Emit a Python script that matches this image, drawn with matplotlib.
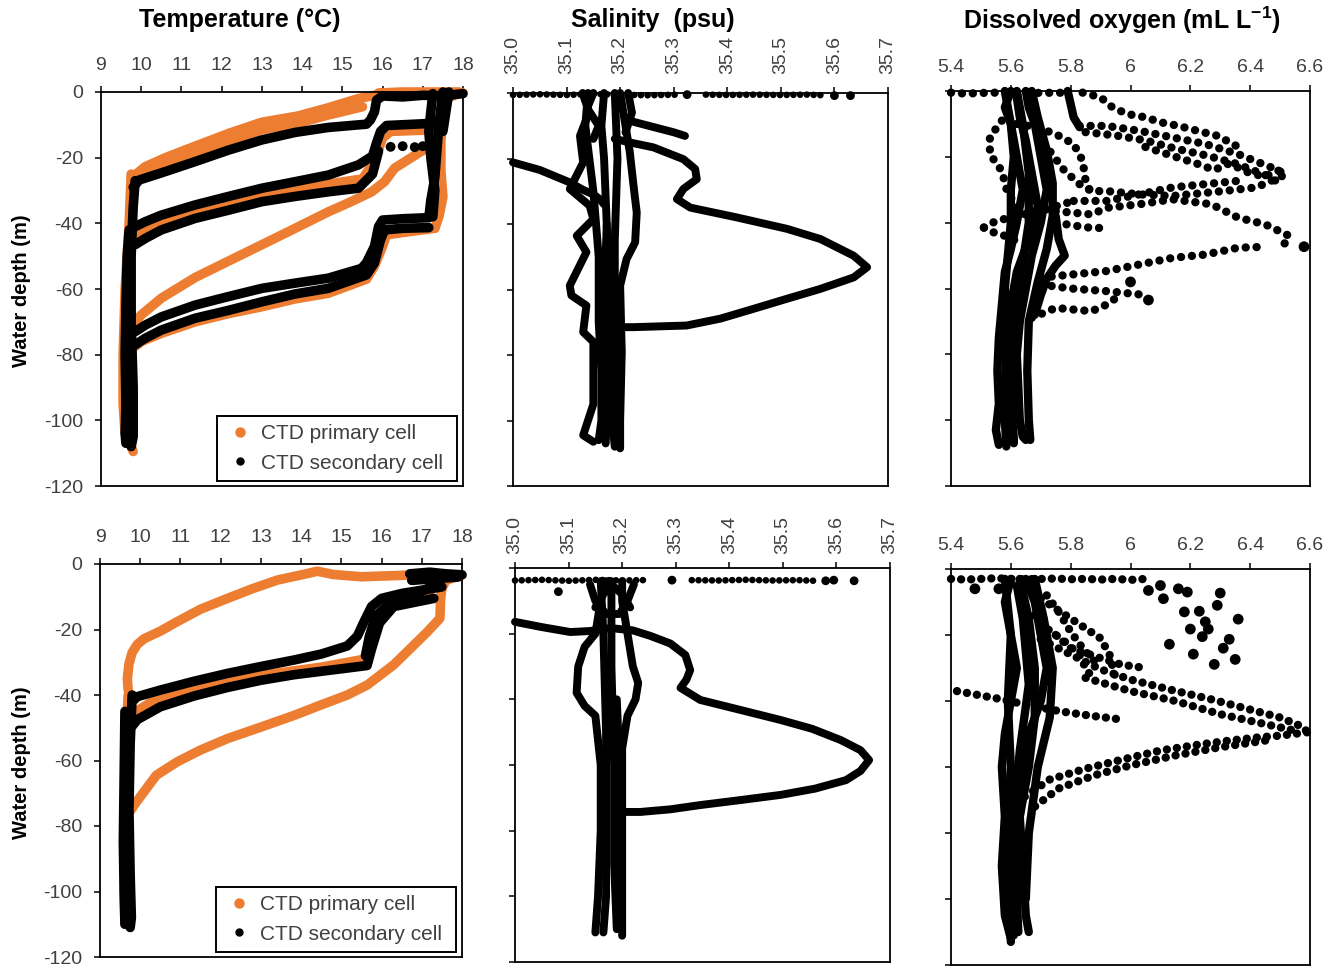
import matplotlib
matplotlib.use("Agg")
import matplotlib.pyplot as plt
from matplotlib.lines import Line2D

plt.rcParams['font.family'] = ['Liberation Sans', 'DejaVu Sans']
plt.rcParams['mathtext.fontset'] = 'custom'
plt.rcParams['mathtext.rm'] = 'Liberation Sans'
plt.rcParams['mathtext.bf'] = 'Liberation Sans:bold'

ORANGE = '#ED7D31'
BLACK = '#000000'

# ---------------- axis ticks / labels ----------------
temp_ticks = [9, 10, 11, 12, 13, 14, 15, 16, 17, 18]
sal_ticks = [35.0, 35.1, 35.2, 35.3, 35.4, 35.5, 35.6, 35.7]
sal_tick_labels = ['35.0', '35.1', '35.2', '35.3', '35.4', '35.5', '35.6', '35.7']
do_ticks = [5.4, 5.6, 5.8, 6.0, 6.2, 6.4, 6.6]
do_tick_labels = ['5.4', '5.6', '5.8', '6', '6.2', '6.4', '6.6']
depth_ticks = [-120, -100, -80, -60, -40, -20, 0]
legend_labels = ['CTD primary cell ', 'CTD secondary cell ']

# ================= Temperature, cast 1 (top) =================
# primary cell (orange)
t1p_top_T = [15.9, 16.5, 17.2, 17.9, 18.0]
t1p_top_d = [-0.3, 0.0, 0.0, 0.0, -0.3]
t1p_a_T = [16.0, 15.8, 15.4, 14.65, 13.9, 13.0, 12.2, 11.34, 10.6, 10.09, 9.78]
t1p_a_d = [-0.3, -1.0, -2.0, -4.8, -7.3, -9.2, -12.5, -16.5, -20.0, -22.8, -26.0]
t1p_b_T = [15.5, 14.65, 13.9, 13.0, 12.2, 11.34, 10.6, 10.09, 9.8]
t1p_b_d = [-4.5, -7.0, -9.5, -11.5, -15.0, -19.0, -22.5, -24.8, -27.5]
t1p_c_T = [17.3, 16.2, 16.0, 15.8, 15.5, 14.65, 13.83, 13.0, 12.17, 11.34, 10.5, 10.0, 9.8]
t1p_c_d = [-11.5, -12.0, -14.0, -21.0, -26.5, -28.0, -30.0, -31.5, -34.0, -36.5, -40.0, -43.0, -45.5]
t1p_mid_T = [17.1, 16.3, 16.05, 15.73, 15.2, 14.65, 13.83, 13.0, 12.17, 11.34, 10.5, 10.0, 9.78]
t1p_mid_d = [-17.0, -23.2, -27.3, -30.4, -33.5, -36.5, -41.5, -46.5, -51.5, -56.5, -62.8, -67.9, -71.0]
t1p_e_T = [17.3, 16.5, 16.1, 16.0, 15.8, 15.6, 14.65, 13.83, 13.0, 12.17, 11.34, 10.5, 10.0, 9.85]
t1p_e_d = [-41.5, -42.8, -43.5, -47.0, -53.0, -57.0, -61.3, -63.0, -65.4, -67.5, -70.0, -73.5, -76.0, -77.5]
t1p_r_T = [17.9, 17.6, 17.5, 17.45, 17.45, 17.5, 17.4, 17.3]
t1p_r_d = [-0.3, -2.0, -8.0, -15.0, -24.0, -32.0, -38.0, -41.5]
t1p_l_T = [9.75, 9.7, 9.6, 9.55, 9.55, 9.6, 9.75, 9.8]
t1p_l_d = [-25.0, -40.0, -60.0, -80.0, -95.0, -104.0, -108.0, -109.5]

# secondary cell (black)
t1s_a_T = [18.0, 17.5, 17.0, 16.5, 16.0, 15.85, 15.8, 15.7, 15.6, 14.65, 13.83, 13.0, 12.17, 11.34, 10.51, 9.95, 9.8]
t1s_a_d = [-0.5, -1.2, -1.0, -1.5, -1.2, -2.5, -6.0, -8.5, -9.8, -10.8, -12.3, -14.6, -17.7, -21.2, -24.6, -26.8, -29.0]
t1s_b1_T = [17.3, 16.8, 16.1, 15.95, 15.85, 15.75, 15.4, 14.65, 13.83, 13.0, 12.17, 11.34, 10.5, 10.1, 9.85]
t1s_b1_d = [-9.5, -9.8, -10.2, -12.0, -15.5, -19.5, -22.2, -25.3, -27.3, -29.3, -31.8, -34.4, -37.5, -39.5, -41.0]
t1s_b2_T = [15.9, 15.75, 15.4, 14.65, 13.83, 13.0, 12.17, 11.34, 10.5, 10.1, 9.85]
t1s_b2_d = [-18.0, -25.0, -29.3, -30.4, -31.8, -33.4, -36.0, -38.5, -42.0, -44.6, -46.5]
t1s_d1_T = [17.1, 16.5, 16.0, 15.9, 15.8, 15.6, 15.48, 14.65, 13.83, 13.0, 12.17, 11.34, 10.5, 10.1, 9.85]
t1s_d1_d = [-38.3, -38.6, -39.0, -41.0, -47.0, -52.0, -53.7, -56.7, -58.2, -59.8, -62.3, -64.9, -68.5, -71.0, -73.0]
t1s_d2_T = [17.15, 16.5, 16.05, 15.95, 15.8, 15.6, 14.65, 13.83, 13.0, 12.17, 11.34, 10.5, 10.1, 9.85]
t1s_d2_d = [-41.3, -41.5, -42.0, -45.0, -52.0, -55.7, -59.8, -61.5, -63.9, -66.5, -68.9, -72.5, -75.0, -77.0]
t1s_r1_T = [17.5, 17.45, 17.4, 17.35, 17.3, 17.2, 17.15]
t1s_r1_d = [0.0, -5.0, -10.0, -18.0, -26.0, -33.0, -38.3]
t1s_r2_T = [17.25, 17.2, 17.15, 17.2, 17.3, 17.25]
t1s_r2_d = [-0.5, -6.0, -12.0, -20.0, -30.0, -38.0]
t1s_r3_T = [17.65, 17.6, 17.55, 17.5]
t1s_r3_d = [0.0, -4.0, -8.0, -12.0]
t1s_l1_T = [9.85, 9.8, 9.75, 9.75, 9.8, 9.8, 9.75]
t1s_l1_d = [-27.0, -35.0, -50.0, -70.0, -90.0, -105.0, -108.0]
t1s_l2_T = [9.7, 9.65, 9.62, 9.6, 9.62, 9.6, 9.62]
t1s_l2_d = [-42.0, -50.0, -65.0, -80.0, -95.0, -104.0, -107.0]
t1s_dots_T = [16.2, 16.5, 16.8, 17.0]
t1s_dots_d = [-16.7, -16.5, -16.8, -16.5]

# ================= Temperature, cast 2 (bottom) =================
t2p_a_T = [18.0, 17.5, 16.65, 15.5, 14.8, 14.4, 14.16, 13.41, 12.8, 12.17, 11.5, 10.92, 10.5, 10.1, 9.93, 9.8, 9.72, 9.68, 9.7]
t2p_a_d = [-3.4, -3.6, -3.4, -3.9, -3.2, -2.2, -2.9, -4.9, -7.5, -10.5, -13.8, -17.6, -20.5, -22.8, -24.5, -27.0, -30.5, -35.0, -38.5]
t2p_b_T = [17.97, 17.6, 17.5, 17.47, 17.45, 17.14, 16.7, 16.3, 15.65, 15.15, 14.5, 13.83, 13.0, 12.17, 11.5, 10.92, 10.4, 10.09, 9.85, 9.75]
t2p_b_d = [-3.4, -5.0, -7.5, -10.5, -16.6, -20.7, -26.0, -30.8, -36.9, -40.0, -43.0, -46.2, -49.8, -53.3, -56.8, -60.4, -64.5, -69.6, -73.6, -75.5]
t2p_c_T = [17.2, 16.4, 15.9, 15.7, 15.6, 14.5, 13.0, 12.0, 11.0, 10.3, 9.9, 9.8]
t2p_c_d = [-9.5, -11.5, -16.0, -22.0, -29.0, -31.5, -34.0, -36.5, -39.0, -42.0, -45.0, -47.5]
t2p_l_T = [9.7, 9.62, 9.6, 9.6, 9.62]
t2p_l_d = [-40.0, -60.0, -80.0, -100.0, -110.0]

t2s_top1_T = [16.7, 17.2, 17.6, 18.0]
t2s_top1_d = [-3.0, -2.5, -3.0, -3.3]
t2s_top2_T = [16.75, 17.3, 17.9]
t2s_top2_d = [-5.0, -4.5, -4.0]
t2s_a_T = [17.5, 17.0, 16.5, 16.0, 15.75, 15.55, 15.4, 15.15, 14.5, 13.83, 13.0, 12.17, 11.34, 10.5, 9.93, 9.8]
t2s_a_d = [-7.0, -8.0, -9.0, -10.5, -13.0, -18.0, -22.0, -25.0, -27.5, -29.3, -31.3, -33.4, -35.8, -38.5, -40.5, -42.0]
t2s_b_T = [17.3, 16.3, 15.95, 15.75, 15.64, 15.0, 13.83, 13.0, 12.17, 11.34, 10.5, 9.93, 9.8]
t2s_b_d = [-10.5, -13.0, -18.0, -26.0, -31.0, -32.0, -33.8, -35.5, -37.7, -40.3, -43.6, -47.5, -49.5]
t2s_c_T = [17.4, 16.8, 16.2, 15.85, 15.7, 15.6]
t2s_c_d = [-6.0, -9.5, -12.0, -16.0, -22.0, -28.0]
t2s_l1_T = [9.8, 9.75, 9.72, 9.75, 9.78, 9.75]
t2s_l1_d = [-40.0, -55.0, -75.0, -95.0, -108.0, -111.0]
t2s_l2_T = [9.62, 9.6, 9.58, 9.6, 9.62]
t2s_l2_d = [-45.0, -65.0, -85.0, -100.0, -110.0]

# ================= Salinity, cast 1 (top) =================
s1_surf_a_S = [35.0, 35.05, 35.1, 35.15, 35.2, 35.25, 35.31]
s1_surf_a_d = [-0.6, -0.4, -0.6, -0.3, -0.5, -0.7, -0.5]
s1_surf_b_S = [35.36, 35.4, 35.45, 35.5, 35.55, 35.58]
s1_surf_b_d = [-0.5, -0.6, -0.5, -0.6, -0.5, -0.7]
s1_dots_S = [35.325, 35.6, 35.63]
s1_dots_d = [-0.5, -0.8, -0.8]
s1_l1_S = [35.15, 35.14, 35.137, 35.125, 35.131, 35.106, 35.143, 35.15, 35.119, 35.137, 35.106, 35.109, 35.137, 35.131, 35.15, 35.15, 35.131, 35.15]
s1_l1_d = [0.0, -4.0, -8.0, -13.1, -21.2, -29.3, -34.4, -38.5, -43.6, -48.6, -58.8, -61.8, -64.9, -73.0, -76.0, -95.0, -104.5, -106.5]
s1_l2_S = [35.17, 35.165, 35.17, 35.175, 35.18, 35.18, 35.185, 35.19]
s1_l2_d = [0.0, -10.0, -20.0, -40.0, -60.0, -80.0, -100.0, -108.0]
s1_l3_S = [35.2, 35.21, 35.218, 35.225, 35.231, 35.228, 35.212, 35.2, 35.203, 35.2, 35.2]
s1_l3_d = [0.0, -10.0, -18.0, -28.3, -36.5, -45.6, -50.7, -58.8, -79.0, -100.0, -108.5]
s1_l4_S = [35.19, 35.195, 35.19, 35.19, 35.195, 35.19]
s1_l4_d = [0.0, -20.0, -45.0, -70.0, -90.0, -104.0]
s1_l5_S = [35.14, 35.135, 35.15, 35.16, 35.16, 35.165, 35.165, 35.16]
s1_l5_d = [0.0, -10.0, -30.0, -50.0, -70.0, -85.0, -100.0, -106.0]
s1_l6_S = [35.0, 35.05, 35.106, 35.13, 35.15, 35.162, 35.17]
s1_l6_d = [-21.2, -23.5, -27.3, -29.5, -31.0, -32.4, -34.0]
s1_l7_S = [35.13, 35.14, 35.16, 35.15]
s1_l7_d = [0.0, -5.0, -10.0, -14.0]
s1_l8_S = [35.215, 35.222, 35.21]
s1_l8_d = [0.0, -6.0, -12.0]
s1_l9_S = [35.175, 35.172, 35.17, 35.172, 35.175, 35.173]
s1_l9_d = [-40.0, -55.0, -70.0, -85.0, -100.0, -107.0]
s1_b1_S = [35.21, 35.225, 35.26, 35.3, 35.321]
s1_b1_d = [-7.5, -8.8, -10.3, -12.0, -13.1]
s1_loop_S = [35.19, 35.218, 35.262, 35.318, 35.34, 35.343, 35.318, 35.306, 35.331, 35.418, 35.512, 35.574,
             35.636, 35.661, 35.636, 35.574, 35.512, 35.449, 35.387, 35.324, 35.225, 35.17]
s1_loop_d = [-14.0, -15.1, -16.6, -20.2, -23.2, -26.3, -29.3, -32.4, -35.0, -38.0, -41.5, -44.6,
             -49.7, -53.2, -56.3, -59.8, -62.8, -65.9, -68.9, -71.0, -71.5, -71.5]

# ================= Salinity, cast 2 (bottom) =================
s2_surf_a_S = [35.0, 35.05, 35.1, 35.15, 35.2, 35.24]
s2_surf_a_d = [-3.8, -3.6, -3.9, -3.6, -3.8, -3.7]
s2_surf_b_S = [35.33, 35.38, 35.43, 35.48, 35.53, 35.56]
s2_surf_b_d = [-3.7, -3.8, -3.6, -3.8, -3.7, -3.9]
s2_dots_S = [35.293, 35.58, 35.595, 35.633, 35.081]
s2_dots_d = [-3.7, -3.9, -3.7, -3.9, -7.2]
s2_l1_S = [35.17, 35.16, 35.15, 35.13, 35.118, 35.115, 35.13, 35.15, 35.16, 35.16, 35.155, 35.15]
s2_l1_d = [-4.0, -10.0, -20.0, -24.0, -30.0, -38.0, -42.0, -45.0, -60.0, -80.0, -100.0, -111.0]
s2_l2_S = [35.2, 35.2, 35.21, 35.22, 35.23, 35.225, 35.21, 35.2, 35.2, 35.2]
s2_l2_d = [-4.0, -10.0, -20.0, -30.0, -35.0, -40.0, -45.0, -55.0, -80.0, -112.0]
s2_l3_S = [35.18, 35.18, 35.185, 35.185, 35.19]
s2_l3_d = [-4.0, -30.0, -60.0, -90.0, -110.0]
s2_l4_S = [35.15, 35.165, 35.18, 35.2, 35.215]
s2_l4_d = [-12.0, -8.0, -5.0, -8.0, -12.0]
s2_l5_S = [35.16, 35.165, 35.17, 35.17, 35.17, 35.165]
s2_l5_d = [-4.0, -20.0, -50.0, -80.0, -100.0, -111.0]
s2_l6_S = [35.14, 35.15, 35.17, 35.195, 35.21, 35.222]
s2_l6_d = [-5.0, -10.0, -14.0, -14.0, -10.0, -5.0]
s2_l7_S = [35.19, 35.195, 35.195, 35.192]
s2_l7_d = [-40.0, -60.0, -85.0, -110.0]
s2_loop_S = [35.0, 35.05, 35.103, 35.14, 35.178, 35.22, 35.253, 35.29, 35.318, 35.327, 35.32, 35.309, 35.346, 35.42,
             35.496, 35.555, 35.608, 35.645, 35.661, 35.645, 35.618, 35.56, 35.496, 35.42, 35.346, 35.29, 35.234, 35.19]
s2_loop_d = [-16.4, -18.0, -19.5, -19.2, -18.3, -19.0, -20.7, -23.0, -26.5, -31.1, -34.0, -36.5, -40.2, -43.2,
             -46.3, -49.0, -52.4, -55.5, -58.5, -61.8, -64.6, -67.2, -69.1, -70.7, -72.2, -73.5, -74.3, -74.3]

# ================= Dissolved oxygen, cast 1 (top) =================
do1_surf_O = [5.4, 5.45, 5.5, 5.55, 5.6, 5.65, 5.7, 5.75, 5.8]
do1_surf_d = [-0.5, -0.8, -0.6, -0.5, -0.6, -0.4, -0.6, -0.5, -0.6]
do1_v1_O = [5.6, 5.58, 5.6, 5.62, 5.64, 5.62, 5.6, 5.58, 5.57, 5.56, 5.555, 5.56, 5.55, 5.56]
do1_v1_d = [0.0, -5.0, -10.0, -20.0, -30.0, -40.0, -48.0, -55.0, -65.0, -75.0, -85.0, -95.0, -103.0, -107.5]
do1_v2_O = [5.65, 5.66, 5.68, 5.7, 5.72, 5.7, 5.67, 5.65, 5.63, 5.62, 5.625, 5.63, 5.64, 5.65]
do1_v2_d = [0.0, -5.0, -10.0, -20.0, -30.0, -40.0, -50.0, -60.0, -70.0, -80.0, -90.0, -100.0, -105.0, -106.0]
do1_v3_O = [5.62, 5.63, 5.65, 5.67, 5.69, 5.66, 5.62, 5.6, 5.6, 5.6, 5.61]
do1_v3_d = [-2.0, -8.0, -15.0, -25.0, -35.0, -45.0, -55.0, -65.0, -80.0, -95.0, -106.0]
do1_v4_O = [5.75, 5.76, 5.78, 5.75, 5.72, 5.7, 5.68]
do1_v4_d = [-38.0, -45.0, -50.0, -53.0, -57.0, -62.0, -68.0]
do1_v5_O = [5.58, 5.6, 5.61, 5.6, 5.6, 5.59, 5.58, 5.585, 5.58, 5.58, 5.585]
do1_v5_d = [0.0, -10.0, -20.0, -30.0, -40.0, -50.0, -60.0, -75.0, -90.0, -100.0, -108.0]
do1_v6_O = [5.67, 5.69, 5.72, 5.74, 5.74, 5.72, 5.69, 5.66, 5.655, 5.66, 5.665]
do1_v6_d = [0.0, -8.0, -18.0, -28.0, -38.0, -48.0, -58.0, -70.0, -85.0, -100.0, -106.0]
do1_v7_O = [5.62, 5.64, 5.66, 5.66, 5.64, 5.62, 5.61, 5.6, 5.605, 5.61]
do1_v7_d = [0.0, -10.0, -25.0, -40.0, -52.0, -62.0, -75.0, -88.0, -100.0, -107.0]
do1_step_O = [5.79, 5.8, 5.81, 5.83]
do1_step_d = [0.0, -4.0, -8.0, -11.0]
do1_A_O = [5.83, 5.92, 6.03, 6.14, 6.25, 6.36, 6.47, 6.52, 6.47, 6.42, 6.31, 6.14, 6.03, 5.92, 5.87]
do1_A_d = [-10.6, -10.6, -12.1, -14.1, -16.1, -19.2, -23.2, -25.3, -27.3, -29.3, -30.4, -31.9, -31.4, -30.4, -30.4]
do1_Ab_O = [5.85, 5.95, 6.05, 6.15, 6.25, 6.35, 6.45, 6.5]
do1_Ab_d = [-12.5, -13.5, -15.0, -17.5, -19.5, -22.0, -25.5, -28.0]
do1_A2_O = [6.05, 6.15, 6.22, 6.28, 6.33, 6.4, 6.45, 6.5]
do1_A2_d = [-17.0, -20.0, -22.0, -24.0, -22.0, -25.0, -26.0, -24.0]
do1_spray_O = [5.84, 5.9, 5.94, 5.99, 6.05, 6.1, 6.16, 6.22, 6.29, 6.33, 6.36]
do1_spray_d = [-0.5, -1.9, -5.0, -7.0, -8.0, -9.5, -10.6, -12.0, -13.6, -15.5, -17.0]
do1_in1_O = [5.62, 5.69, 5.75, 5.81, 5.84, 5.85, 5.87]
do1_in1_d = [-10.0, -11.1, -13.1, -16.1, -21.2, -27.3, -31.4]
do1_in2_O = [5.69, 5.73, 5.78, 5.83, 5.87]
do1_in2_d = [-13.1, -18.2, -24.3, -28.3, -30.4]
do1_left_O = [5.57, 5.53, 5.53, 5.57, 5.59, 5.64, 5.7]
do1_left_d = [-9.0, -14.0, -19.2, -24.3, -31.4, -36.5, -40.0]
do1_B0_O = [5.51, 5.55, 5.62, 5.7, 5.75, 5.81]
do1_B0_d = [-41.5, -39.5, -38.0, -36.5, -35.0, -33.4]
do1_B0b_O = [5.51, 5.53, 5.58, 5.62]
do1_B0b_d = [-41.5, -42.6, -44.0, -45.6]
do1_B1_O = [5.81, 5.92, 6.03, 6.14, 6.25, 6.36]
do1_B1_d = [-33.4, -33.4, -31.4, -29.3, -28.3, -27.3]
do1_B2_O = [5.75, 5.87, 5.92, 6.03, 6.14, 6.27, 6.36, 6.45, 6.53, 6.51]
do1_B2_d = [-36.5, -37.5, -35.5, -34.4, -32.9, -34.4, -38.5, -40.5, -44.0, -47.1]
do1_B3_O = [5.75, 5.82, 5.87, 5.9]
do1_B3_d = [-40.0, -41.0, -41.6, -41.6]
do1_C_O = [5.70, 5.81, 5.92, 6.03, 6.14, 6.25, 6.36, 6.43]
do1_C_d = [-56.7, -55.7, -54.7, -52.7, -50.7, -49.7, -47.6, -47.4]
do1_C2_O = [5.70, 5.8, 5.92, 6.03]
do1_C2_d = [-58.8, -60.0, -60.8, -61.8]
do1_D_O = [5.67, 5.75, 5.87, 5.92, 5.95]
do1_D_d = [-68.9, -65.9, -66.9, -64.9, -63.0]
do1_dots_O = [6.58, 6.06, 6.0]
do1_dots_d = [-47.3, -63.5, -58.0]

# ================= Dissolved oxygen, cast 2 (bottom) =================
do2_surf_O = [5.4, 5.45, 5.5, 5.55, 5.6, 5.65, 5.7, 5.75, 5.8, 5.85, 5.9, 5.95, 6.0, 6.05]
do2_surf_d = [-3.0, -3.2, -3.0, -2.8, -3.0, -3.1, -3.0, -2.9, -3.1, -3.0, -3.2, -3.0, -3.3, -3.0]
do2_dots_O = [5.48, 5.56, 6.10, 6.16, 6.19, 6.30, 6.06, 6.11, 6.23, 6.36, 6.26, 6.33, 6.21, 6.28, 6.13, 6.35, 6.20, 6.25, 6.31, 6.18, 6.24, 6.29]
do2_dots_d = [-6.0, -6.0, -5.0, -6.0, -7.0, -7.3, -6.5, -9.0, -12.8, -15.2, -18.2, -21.3, -25.8, -28.9, -22.8, -27.4, -18.2, -16.0, -24.0, -13.0, -20.5, -11.0]
do2_v1_O = [5.6, 5.58, 5.6, 5.62, 5.6, 5.58, 5.57, 5.58, 5.57, 5.58, 5.6]
do2_v1_d = [-3.0, -10.0, -20.0, -30.0, -40.0, -50.0, -60.0, -75.0, -90.0, -105.0, -112.0]
do2_v2_O = [5.65, 5.68, 5.7, 5.72, 5.7, 5.66, 5.64, 5.63, 5.64, 5.65, 5.66]
do2_v2_d = [-3.0, -10.0, -20.0, -30.0, -40.0, -50.0, -60.0, -75.0, -90.0, -105.0, -110.0]
do2_v3_O = [5.62, 5.64, 5.66, 5.63, 5.61, 5.6, 5.61]
do2_v3_d = [-5.0, -15.0, -35.0, -55.0, -75.0, -95.0, -111.0]
do2_v4_O = [5.58, 5.6, 5.59, 5.6, 5.59, 5.6, 5.6]
do2_v4_d = [-3.0, -20.0, -40.0, -60.0, -80.0, -100.0, -113.0]
do2_v5_O = [5.68, 5.71, 5.74, 5.73, 5.69, 5.66, 5.65]
do2_v5_d = [-3.0, -15.0, -30.0, -45.0, -60.0, -80.0, -100.0]
do2_v6_O = [5.63, 5.66, 5.68, 5.68, 5.66, 5.62, 5.62, 5.625]
do2_v6_d = [-3.0, -15.0, -30.0, -45.0, -60.0, -80.0, -100.0, -110.0]
do2_m1_O = [5.7, 5.75, 5.8, 5.85, 5.9, 5.93, 5.95]
do2_m1_d = [-9.0, -12.0, -15.0, -18.0, -21.0, -26.0, -33.0]
do2_m2_O = [5.68, 5.72, 5.78, 5.83, 5.85, 5.88]
do2_m2_d = [-14.0, -18.0, -22.0, -26.0, -30.0, -34.0]
do2_m3_O = [5.75, 5.8, 5.9, 5.97, 6.05]
do2_m3_d = [-20.0, -24.0, -27.0, -29.0, -30.0]
do2_m4_O = [5.72, 5.76, 5.8, 5.84, 5.88]
do2_m4_d = [-8.0, -13.0, -19.0, -24.0, -28.0]
do2_up_O = [5.70, 5.78, 5.9, 6.0, 6.13, 6.27, 6.40, 6.5, 6.58, 6.59]
do2_up_d = [-21.3, -25.0, -30.4, -33.5, -36.5, -39.5, -42.6, -45.0, -48.0, -49.5]
do2_mid_O = [5.85, 6.0, 6.15, 6.3, 6.45, 6.55]
do2_mid_d = [-33.0, -37.0, -40.0, -44.0, -47.0, -49.0]
do2_down_O = [6.59, 6.5, 6.43, 6.33, 6.23, 6.1, 5.97, 5.85, 5.73, 5.63]
do2_down_d = [-49.5, -50.5, -51.0, -52.0, -53.2, -55.0, -57.8, -60.5, -63.8, -70.0]
do2_down2_O = [6.45, 6.3, 6.15, 6.0, 5.88, 5.76, 5.68]
do2_down2_d = [-52.0, -54.0, -56.5, -59.5, -62.5, -66.5, -72.0]
do2_left_O = [5.42, 5.48, 5.57, 5.67, 5.77, 5.87, 5.97]
do2_left_d = [-37.0, -38.0, -39.5, -41.5, -43.2, -44.5, -45.6]

# ---------------- layout (pixels of a 1329 x 968 canvas) ----------------
W, H = 1329, 968
fig = plt.figure(figsize=(W / 100, H / 100), dpi=100)


def add_ax(l, t, r, b):
    return fig.add_axes([l / W, 1 - b / H, (r - l) / W, (b - t) / H])


ax_t1 = add_ax(101, 92, 463, 486)
ax_s1 = add_ax(513, 93, 888, 486)
ax_o1 = add_ax(951, 91, 1310, 486)
ax_t2 = add_ax(100, 564, 462, 957)
ax_s2 = add_ax(515, 568, 890, 962)
ax_o2 = add_ax(951, 569, 1310, 965)

TICKCOL = '#404040'


def style(ax, xlim, xticks, xlabels, rot, pad, ylabels):
    ax.set_xlim(*xlim)
    ax.set_ylim(-120, 0)
    ax.xaxis.tick_top()
    ax.set_xticks(xticks)
    ax.set_xticklabels(xlabels, rotation=rot)
    ax.set_yticks(depth_ticks)
    if ylabels:
        ax.set_yticklabels([str(v) for v in depth_ticks])
    else:
        ax.set_yticklabels([])
    ax.tick_params(axis='x', direction='out', length=4, width=1.1, pad=pad,
                   labelsize=14, labelcolor=TICKCOL, color='black')
    ax.tick_params(axis='y', direction='out', length=4, width=1.1, pad=9,
                   labelsize=14, labelcolor=TICKCOL, color='black')
    for s in ax.spines.values():
        s.set_linewidth(1.3)
        s.set_color('black')
        s.set_zorder(5)


def trace(ax, x, y, color, lw, dotted=False, gap=1.6):
    ls = (0, (0.01, gap)) if dotted else '-'
    ax.plot(x, y, color=color, lw=lw, ls=ls, solid_capstyle='round',
            dash_capstyle='round', solid_joinstyle='round', clip_on=False, zorder=2)


def dots(ax, x, y, color, size=26):
    ax.scatter(x, y, s=size, c=color, edgecolors='none', clip_on=False, zorder=2)


# ---- temperature ----
TLW = 6.9
for ax, prim, sec in [
    (ax_t1,
     [(t1p_top_T, t1p_top_d), (t1p_a_T, t1p_a_d), (t1p_b_T, t1p_b_d), (t1p_c_T, t1p_c_d),
      (t1p_mid_T, t1p_mid_d), (t1p_e_T, t1p_e_d), (t1p_r_T, t1p_r_d), (t1p_l_T, t1p_l_d)],
     [(t1s_a_T, t1s_a_d), (t1s_b1_T, t1s_b1_d), (t1s_b2_T, t1s_b2_d), (t1s_d1_T, t1s_d1_d),
      (t1s_d2_T, t1s_d2_d), (t1s_r1_T, t1s_r1_d), (t1s_r2_T, t1s_r2_d), (t1s_r3_T, t1s_r3_d),
      (t1s_l1_T, t1s_l1_d), (t1s_l2_T, t1s_l2_d)]),
    (ax_t2,
     [(t2p_a_T, t2p_a_d), (t2p_b_T, t2p_b_d), (t2p_c_T, t2p_c_d), (t2p_l_T, t2p_l_d)],
     [(t2s_top1_T, t2s_top1_d), (t2s_top2_T, t2s_top2_d), (t2s_a_T, t2s_a_d), (t2s_b_T, t2s_b_d),
      (t2s_c_T, t2s_c_d), (t2s_l1_T, t2s_l1_d), (t2s_l2_T, t2s_l2_d)]),
]:
    for x, y in prim:
        trace(ax, x, y, ORANGE, TLW)
    for x, y in sec:
        trace(ax, x, y, BLACK, TLW)
    style(ax, (9, 18), temp_ticks, [str(v) for v in temp_ticks], 0, 9, True)
    leg = ax.legend(handles=[Line2D([], [], ls='', marker='o', ms=6.5, color=ORANGE),
                             Line2D([], [], ls='', marker='o', ms=5, color=BLACK)],
                    labels=legend_labels,
                    loc='lower right', bbox_to_anchor=(0.984, 0.013), borderaxespad=0,
                    fontsize=15, frameon=True, fancybox=False, framealpha=1,
                    edgecolor='black', handlelength=1.4, handletextpad=0.3,
                    borderpad=0.4, labelspacing=0.5, labelcolor=TICKCOL)
    leg.get_frame().set_linewidth(1.4)
    leg.set_zorder(6)
dots(ax_t1, t1s_dots_T, t1s_dots_d, BLACK, 50)

# ---- salinity ----
SLW = 5.7
for x, y in [(s1_l1_S, s1_l1_d), (s1_l2_S, s1_l2_d), (s1_l3_S, s1_l3_d), (s1_l4_S, s1_l4_d),
             (s1_l5_S, s1_l5_d), (s1_l6_S, s1_l6_d), (s1_l7_S, s1_l7_d), (s1_l8_S, s1_l8_d),
             (s1_l9_S, s1_l9_d), (s1_b1_S, s1_b1_d), (s1_loop_S, s1_loop_d)]:
    trace(ax_s1, x, y, BLACK, SLW)
for x, y in [(s1_surf_a_S, s1_surf_a_d), (s1_surf_b_S, s1_surf_b_d)]:
    trace(ax_s1, x, y, BLACK, 4.8, dotted=True, gap=1.0)
dots(ax_s1, s1_dots_S, s1_dots_d, BLACK, 40)

for x, y in [(s2_l1_S, s2_l1_d), (s2_l2_S, s2_l2_d), (s2_l3_S, s2_l3_d), (s2_l4_S, s2_l4_d),
             (s2_l5_S, s2_l5_d), (s2_l6_S, s2_l6_d), (s2_l7_S, s2_l7_d), (s2_loop_S, s2_loop_d)]:
    trace(ax_s2, x, y, BLACK, SLW)
for x, y in [(s2_surf_a_S, s2_surf_a_d), (s2_surf_b_S, s2_surf_b_d)]:
    trace(ax_s2, x, y, BLACK, 4.8, dotted=True, gap=1.0)
dots(ax_s2, s2_dots_S, s2_dots_d, BLACK, 40)

for ax in (ax_s1, ax_s2):
    style(ax, (35.0, 35.7), sal_ticks, sal_tick_labels, 90, 10 if ax is ax_s1 else 6, False)

# ---- dissolved oxygen ----
DLW = 6.0
for x, y in [(do1_v1_O, do1_v1_d), (do1_v2_O, do1_v2_d), (do1_v3_O, do1_v3_d), (do1_v4_O, do1_v4_d),
             (do1_v5_O, do1_v5_d), (do1_v6_O, do1_v6_d), (do1_v7_O, do1_v7_d), (do1_step_O, do1_step_d)]:
    trace(ax_o1, x, y, BLACK, DLW)
for x, y in [(do1_surf_O, do1_surf_d), (do1_A_O, do1_A_d), (do1_Ab_O, do1_Ab_d), (do1_A2_O, do1_A2_d),
             (do1_spray_O, do1_spray_d), (do1_in1_O, do1_in1_d), (do1_in2_O, do1_in2_d),
             (do1_left_O, do1_left_d), (do1_B0_O, do1_B0_d), (do1_B0b_O, do1_B0b_d),
             (do1_B1_O, do1_B1_d), (do1_B2_O, do1_B2_d), (do1_B3_O, do1_B3_d),
             (do1_C_O, do1_C_d), (do1_C2_O, do1_C2_d), (do1_D_O, do1_D_d)]:
    trace(ax_o1, x, y, BLACK, DLW, dotted=True, gap=1.3)
dots(ax_o1, do1_dots_O, do1_dots_d, BLACK, 60)

for x, y in [(do2_v1_O, do2_v1_d), (do2_v2_O, do2_v2_d), (do2_v3_O, do2_v3_d),
             (do2_v4_O, do2_v4_d), (do2_v5_O, do2_v5_d), (do2_v6_O, do2_v6_d)]:
    trace(ax_o2, x, y, BLACK, DLW)
for x, y in [(do2_surf_O, do2_surf_d), (do2_m1_O, do2_m1_d), (do2_m2_O, do2_m2_d),
             (do2_m3_O, do2_m3_d), (do2_m4_O, do2_m4_d), (do2_up_O, do2_up_d), (do2_mid_O, do2_mid_d),
             (do2_down_O, do2_down_d), (do2_down2_O, do2_down2_d), (do2_left_O, do2_left_d)]:
    trace(ax_o2, x, y, BLACK, DLW, dotted=True, gap=1.2)
dots(ax_o2, do2_dots_O, do2_dots_d, BLACK, 60)

for ax in (ax_o1, ax_o2):
    style(ax, (5.4, 6.6), do_ticks, do_tick_labels, 0, 7, False)

# ---- titles & axis labels ----
fig.text(240 / W, 1 - 20 / H, 'Temperature (°C)', ha='center', va='center',
         fontsize=18, fontweight='bold')
fig.text(653 / W, 1 - 20 / H, 'Salinity  (psu)', ha='center', va='center',
         fontsize=18, fontweight='bold')
fig.text(1122 / W, 1 - 20 / H, r'Dissolved oxygen (mL L$^{\mathbf{-1}}$)', ha='center', va='center',
         fontsize=18, fontweight='bold')
for yc in (291, 763):
    fig.text(22 / W, 1 - yc / H, 'Water depth (m)', rotation=90, ha='center', va='center',
             fontsize=14.5, fontweight='bold')

fig.savefig('out.png', dpi=100)
